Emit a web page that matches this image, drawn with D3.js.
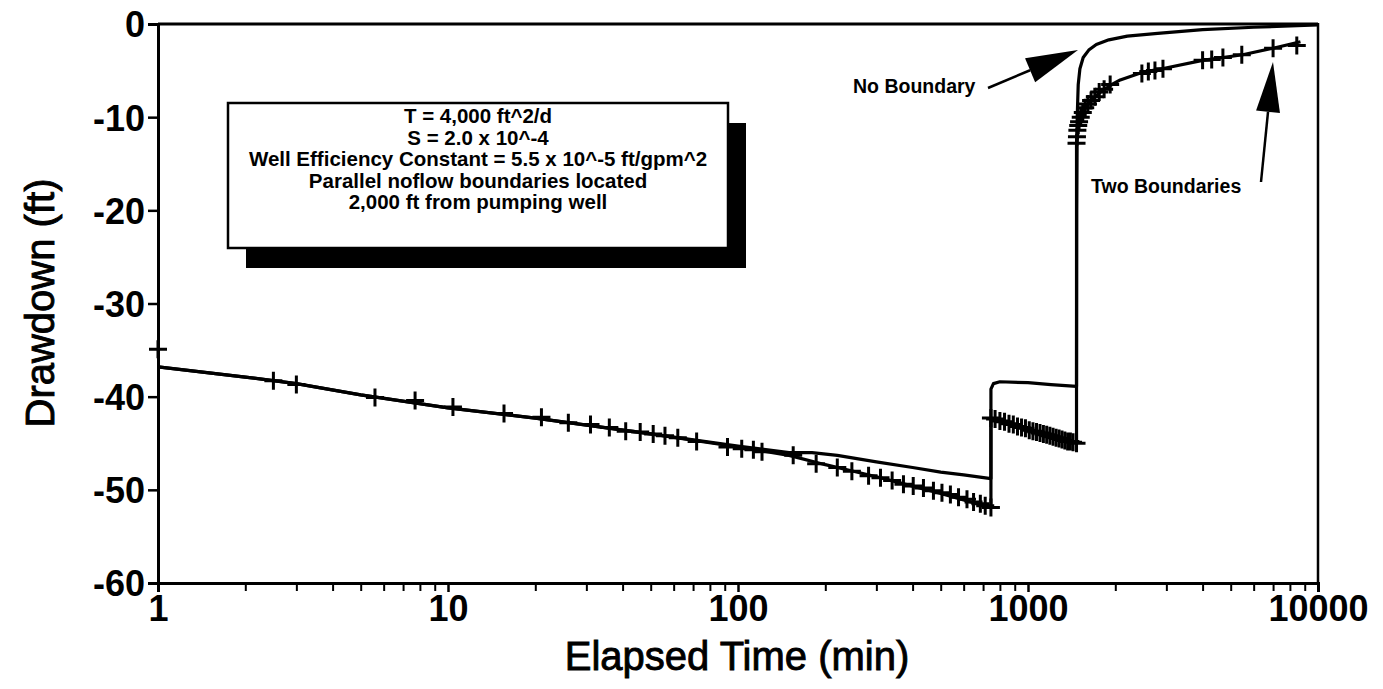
<!DOCTYPE html>
<html>
<head>
<meta charset="utf-8">
<script src="https://cdn.jsdelivr.net/npm/d3@7"></script>
<style>
  body { margin: 0; background: #fff; }
  svg { display: block; }
  text { font-family: "Liberation Sans", Arial, Helvetica, sans-serif; fill: #000; }
  .tick-label { font-size: 36px; font-weight: bold; }
  .axis-title { font-size: 40px; stroke: #000; stroke-width: 0.9px; }
  .note { font-size: 20.5px; font-weight: bold; }
  .callout { font-size: 19.5px; font-weight: bold; }
</style>
</head>
<body>
<svg id="chart" width="1383" height="689"></svg>
<script>
// drawdown model curves (time in min, drawdown in ft)
var noBoundaryTime = [1, 2, 3, 5, 10, 20, 50, 100, 150, 180, 220, 300, 400, 500, 600, 745,
                      745, 760, 800, 1000, 1200, 1470,
                      1472, 1478, 1490, 1510, 1550, 1620, 1720, 1900, 2200, 2800, 4000, 6000, 10000];
var noBoundaryDrawdown = [-36.8, -37.9, -38.6, -39.8, -41.2, -42.3, -44.0, -45.3, -46.0, -46.0, -46.3, -47.0, -47.6, -48.1, -48.4, -48.8,
                          -39.2, -38.6, -38.4, -38.5, -38.7, -38.9,
                          -20.0, -10.0, -6.5, -4.8, -3.6, -2.8, -2.2, -1.7, -1.3, -1.0, -0.6, -0.35, -0.1];

var twoBoundaryTime = [1, 2, 3, 5, 10, 20, 50, 100, 150, 200, 250, 300, 400, 500, 600, 745,
                       745, 800, 900, 1000, 1200, 1470,
                       1470, 1490, 1520, 1580, 1680, 1780, 1920, 2080, 2470, 2900, 4000, 5500, 7000, 8700];
var twoBoundaryDrawdown = [-36.8, -37.9, -38.6, -39.8, -41.2, -42.3, -44.0, -45.4, -46.3, -47.3, -48.0, -48.6, -49.6, -50.4, -51.1, -51.9,
                           -42.3, -42.6, -43.1, -43.5, -44.2, -44.9,
                           -12.8, -11.0, -10.0, -9.0, -8.0, -7.3, -6.6, -6.0, -5.2, -4.8, -3.9, -3.3, -2.6, -1.9];

// plotted points (+)
var pointTime = [1, 2.5, 3, 5.6, 7.7, 10.4, 15.6, 21, 26, 31, 36, 41, 46, 51, 56, 62, 72, 92, 103, 113, 121,
                 155, 186, 220, 247, 282, 310, 340, 372, 402, 436, 472, 505, 540, 576, 616, 649, 685, 712, 745,
                 745, 770, 800, 830, 860, 890, 920, 950, 980, 1010, 1040, 1070, 1100, 1130, 1160, 1190, 1220, 1250, 1280, 1310, 1340, 1370, 1400, 1430, 1470,
                 1470, 1475, 1480, 1490, 1500, 1520, 1545, 1575, 1610, 1650, 1700, 1760, 1830, 1920,
                 2470, 2600, 2740, 2920, 4000, 4300, 4700, 5460, 7000, 8450];
var pointDrawdown = [-34.9, -38.3, -38.7, -40.1, -40.4, -41.1, -41.8, -42.2, -42.8, -43.0, -43.3, -43.7, -43.8, -44.0, -44.2, -44.4, -44.8, -45.4, -45.6, -45.7, -45.9,
                     -46.3, -47.2, -47.6, -48.0, -48.5, -48.7, -49.0, -49.4, -49.6, -49.8, -50.1, -50.3, -50.5, -50.8, -51.0, -51.3, -51.5, -51.7, -51.9,
                     -42.3, -42.4, -42.6, -42.7, -42.9, -43.0, -43.2, -43.3, -43.4, -43.6, -43.7, -43.8, -43.9, -44.0, -44.1, -44.2, -44.3, -44.4, -44.5, -44.6, -44.7, -44.8, -44.8, -44.9, -45.0,
                     -12.8, -12.1, -11.4, -10.9, -10.5, -10.0, -9.5, -9.0, -8.6, -8.2, -7.8, -7.3, -7.0, -6.5,
                     -5.3, -5.1, -5.0, -4.8, -3.9, -3.8, -3.6, -3.3, -2.6, -2.3];

var yTicks = [0, -10, -20, -30, -40, -50, -60];
var xMajorTicks = [1, 10, 100, 1000, 10000];
var xMinorTicks = [2, 3, 4, 5, 6, 7, 8, 9, 20, 30, 40, 50, 60, 70, 80, 90,
                   200, 300, 400, 500, 600, 700, 800, 900, 2000, 3000, 4000, 5000, 6000, 7000, 8000, 9000];

var noteLines = ["T = 4,000 ft^2/d",
                 "S = 2.0 x 10^-4",
                 "Well Efficiency Constant = 5.5 x 10^-5 ft/gpm^2",
                 "Parallel noflow boundaries located",
                 "2,000 ft from pumping well"];

var svg = d3.select("#chart");
var x = d3.scaleLog().domain([1, 10000]).range([158, 1318]);
var y = d3.scaleLinear().domain([-60, 0]).range([583, 24]);

// frame: top and right edges
svg.append("line").attr("x1", x(1)).attr("x2", x(10000)).attr("y1", y(0)).attr("y2", y(0))
   .attr("stroke", "#000").attr("stroke-width", 3);
svg.append("line").attr("x1", x(10000)).attr("x2", x(10000)).attr("y1", y(0) - 1).attr("y2", y(-60))
   .attr("stroke", "#000").attr("stroke-width", 2.5);

// y axis (plain hyphen for negatives, like the original)
var yAxis = svg.append("g").attr("transform", "translate(" + x(1) + ",0)")
   .call(d3.axisLeft(y).tickValues(yTicks).tickSize(10).tickPadding(3).tickFormat(function(d){ return String(d); }));
yAxis.select(".domain").attr("stroke-width", 3);
yAxis.selectAll(".tick line").attr("stroke-width", 2.5);
yAxis.selectAll(".tick text").attr("class", "tick-label").attr("dy", "0.36em");

// x axis, major ticks with labels, then minor ticks
var xAxis = svg.append("g").attr("transform", "translate(0," + y(-60) + ")")
   .call(d3.axisBottom(x).tickValues(xMajorTicks).tickSize(9).tickPadding(2).tickFormat(function(d){ return String(d); }));
xAxis.select(".domain").attr("stroke-width", 3);
xAxis.selectAll(".tick line").attr("stroke-width", 2.5);
xAxis.selectAll(".tick text").attr("class", "tick-label").attr("dy", "0.75em");

var xMinor = svg.append("g").attr("transform", "translate(0," + y(-60) + ")")
   .call(d3.axisBottom(x).tickValues(xMinorTicks).tickSize(8).tickFormat(""));
xMinor.select(".domain").remove();
xMinor.selectAll(".tick line").attr("stroke-width", 2);

// axis titles
svg.append("text").attr("class", "axis-title").attr("text-anchor", "middle")
   .attr("x", 737).attr("y", 670).text("Elapsed Time (min)");
svg.append("text").attr("class", "axis-title").attr("text-anchor", "middle")
   .attr("transform", "translate(54," + 303 + ") rotate(-90)").text("Drawdown (ft)");

// curves
var line = d3.line().x(function(d){ return x(d[0]); }).y(function(d){ return y(d[1]); });
svg.append("path").datum(d3.zip(noBoundaryTime, noBoundaryDrawdown)).attr("d", line)
   .attr("fill", "none").attr("stroke", "#000").attr("stroke-width", 3.2).attr("stroke-linejoin", "round");
svg.append("path").datum(d3.zip(twoBoundaryTime, twoBoundaryDrawdown)).attr("d", line)
   .attr("fill", "none").attr("stroke", "#000").attr("stroke-width", 3.2).attr("stroke-linejoin", "round");

// plus markers
svg.append("g").selectAll("path.pt")
   .data(d3.zip(pointTime, pointDrawdown))
   .enter()
   .append("path")
   .attr("class", "pt")
   .attr("transform", function(d){ return "translate(" + x(d[0]) + "," + y(d[1]) + ")"; })
   .attr("d", "M-9,0H9M0,-9V9")
   .attr("stroke", "#000").attr("stroke-width", 3).attr("fill", "none");

// parameter box with drop shadow
var box = { x: 228, y: 103, w: 500, h: 145 };
svg.append("rect").attr("x", box.x + 18).attr("y", box.y + 20).attr("width", box.w).attr("height", box.h).attr("fill", "#000");
svg.append("rect").attr("x", box.x).attr("y", box.y).attr("width", box.w).attr("height", box.h)
   .attr("fill", "#fff").attr("stroke", "#000").attr("stroke-width", 2.5);
svg.append("g").selectAll("text")
   .data(noteLines)
   .enter()
   .append("text")
   .attr("class", "note")
   .attr("text-anchor", "middle")
   .attr("x", box.x + box.w / 2)
   .attr("y", function(d, i){ return 123 + i * 21.5; })
   .text(function(d){ return d; });

// annotations with arrows
function arrow(x1, y1, x2, y2, headLen, headWid){
   var a = Math.atan2(y2 - y1, x2 - x1);
   var bx = x2 - headLen * Math.cos(a), by = y2 - headLen * Math.sin(a);
   var nx = -Math.sin(a) * headWid / 2, ny = Math.cos(a) * headWid / 2;
   svg.append("line").attr("x1", x1).attr("y1", y1).attr("x2", bx).attr("y2", by)
      .attr("stroke", "#000").attr("stroke-width", 2.5);
   svg.append("path").attr("d", "M" + x2 + "," + y2 + "L" + (bx + nx) + "," + (by + ny) + "L" + (bx - nx) + "," + (by - ny) + "Z")
      .attr("fill", "#000");
}
svg.append("text").attr("class", "callout").attr("x", 853).attr("y", 93).text("No Boundary");
arrow(988, 88, 1078, 50, 52, 26);
svg.append("text").attr("class", "callout").attr("x", 1091).attr("y", 193).text("Two Boundaries");
arrow(1261, 182, 1273, 62, 50, 24);
</script>
</body>
</html>
